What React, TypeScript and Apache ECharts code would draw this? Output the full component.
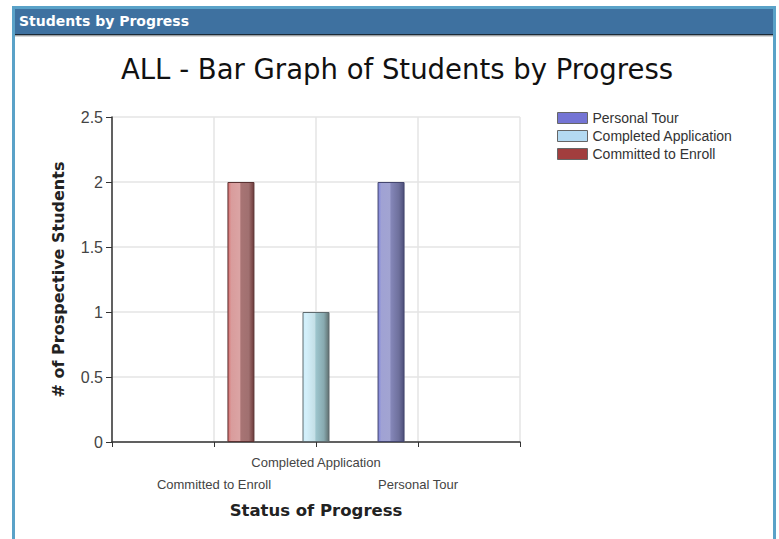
import React, { useEffect, useRef } from "react";
import * as echarts from "echarts";

const panelTitle = "Students by Progress";
const chartTitle = "ALL - Bar Graph of Students by Progress";
const axisCategories = ["", "Committed to Enroll", "Completed Application", "Personal Tour", ""];
const groupCategory = ["ALL"];
const seriesNames = ["Committed to Enroll", "Completed Application", "Personal Tour"];
const seriesValues = [2, 1, 2];
const legendOrder = ["Personal Tour", "Completed Application", "Committed to Enroll"];
const yTicks = [0, 0.5, 1, 1.5, 2, 2.5];

const barGradients: Record<string, string[]> = {
  "Committed to Enroll": ["#d86868", "#d99c9c", "#dba4a4", "#a87474", "#a07070", "#6e3a3a"],
  "Completed Application": ["#cdeefa", "#d4f0fb", "#c4dfe6", "#9cc4cc", "#88aab0", "#607070"],
  "Personal Tour": ["#7a80e0", "#a0a2d4", "#a2a4d2", "#8486b8", "#6e709c", "#4c4e7a"],
};
const legendColors: Record<string, string> = {
  "Personal Tour": "#7474d4",
  "Completed Application": "#b4daf2",
  "Committed to Enroll": "#a23e3e",
};
const borderColors: Record<string, string> = {
  "Committed to Enroll": "#5a3232",
  "Completed Application": "#5e6a6e",
  "Personal Tour": "#44466e",
};

function grad(stops: string[]) {
  const pos = [0, 0.12, 0.45, 0.5, 0.8, 1];
  return new echarts.graphic.LinearGradient(
    0, 0, 1, 0,
    stops.map((c, i) => ({ offset: pos[i], color: c }))
  );
}

export default function App() {
  const ref = useRef<HTMLDivElement>(null);
  useEffect(() => {
    if (!ref.current) return;
    const chart = echarts.init(ref.current, undefined, { renderer: "svg" });
    chart.setOption({
      animation: false,
      backgroundColor: "#ffffff",
      title: {
        text: chartTitle,
        left: 392,
        top: 50,
        textAlign: "center",
        textStyle: { fontFamily: "DejaVu Sans", fontSize: 27.5, fontWeight: "normal", color: "#111111" },
      },
      graphic: [
        {
          type: "rect",
          shape: { x: 13.5, y: 7.5, width: 761, height: 560 },
          style: { fill: "#ffffff", stroke: "#5aa2c8", lineWidth: 3 },
          z: -10,
        },
        {
          type: "rect",
          shape: { x: 15, y: 9, width: 758, height: 25 },
          style: { fill: "#3e71a0" },
          z: -9,
        },
        {
          type: "rect",
          shape: { x: 15, y: 34, width: 758, height: 1.5 },
          style: { fill: "#1c2a36" },
          z: -9,
        },
        {
          type: "rect",
          shape: { x: 15, y: 35.5, width: 758, height: 1 },
          style: { fill: "#b0b0b0" },
          z: -9,
        },
        {
          type: "text",
          x: 19,
          y: 21,
          style: {
            text: panelTitle,
            fill: "#ffffff",
            fontFamily: "DejaVu Sans",
            fontWeight: "bold",
            fontSize: 14,
            verticalAlign: "middle",
          },
          z: -8,
        },
      ],
      legend: {
        orient: "vertical",
        left: 552,
        top: 106,
        itemWidth: 30,
        itemHeight: 11,
        itemGap: 4,
        icon: "rect",
        textStyle: { fontFamily: "Liberation Sans", fontSize: 14, lineHeight: 14, color: "#333333" },
        data: legendOrder.map((n) => ({
          name: n,
          itemStyle: { color: legendColors[n], borderColor: "#666666", borderWidth: 1 },
        })),
      },
      grid: { left: 112, top: 117, width: 408, height: 325, containLabel: false },
      xAxis: [
        {
          type: "category",
          data: axisCategories,
          boundaryGap: false,
          name: "Status of Progress",
          nameLocation: "middle",
          nameGap: 60,
          nameTextStyle: { fontFamily: "DejaVu Sans", fontWeight: "bold", fontSize: 16.5, color: "#222222" },
          axisLine: { lineStyle: { color: "#333333", width: 1.5 } },
          axisTick: { show: true, inside: false, length: 5, alignWithLabel: true, interval: 0, lineStyle: { color: "#333333" } },
          splitLine: { show: true, interval: 0, lineStyle: { color: "#e4e4e4", width: 1.5 } },
          axisLabel: {
            interval: 0,
            margin: 9,
            fontFamily: "Liberation Sans",
            fontSize: 13,
            lineHeight: 22,
            color: "#444444",
            formatter: (v: string, i: number) => (i === 2 ? v : v ? "\n" + v : ""),
          },
        },
        {
          type: "category",
          data: groupCategory,
          show: false,
          boundaryGap: true,
        },
      ],
      yAxis: {
        type: "value",
        min: 0,
        max: yTicks[yTicks.length - 1],
        interval: 0.5,
        name: "# of Prospective Students",
        nameLocation: "middle",
        nameGap: 46,
        nameTextStyle: { fontFamily: "DejaVu Sans", fontWeight: "bold", fontSize: 16, color: "#222222" },
        axisLine: { show: true, lineStyle: { color: "#333333", width: 1.5 } },
        axisTick: { show: true, inside: false, length: 6, lineStyle: { color: "#333333" } },
        splitLine: { show: true, lineStyle: { color: "#e4e4e4", width: 1.5 } },
        axisLabel: {
          margin: 9,
          fontFamily: "Liberation Sans",
          fontSize: 16,
          color: "#444444",
        },
      },
      series: seriesNames.map((n, i) => ({
        name: n,
        type: "bar",
        xAxisIndex: 1,
        barWidth: 27,
        barGap: "178%",
        data: [seriesValues[i]],
        itemStyle: {
          color: grad(barGradients[n]),
          borderColor: borderColors[n],
          borderWidth: 1,
        },
        z: 3,
      })),
    });
    return () => chart.dispose();
  }, []);
  return (
    <div
      ref={ref}
      style={{ position: "fixed", left: 0, top: 0, width: 779, height: 539 }}
    />
  );
}
